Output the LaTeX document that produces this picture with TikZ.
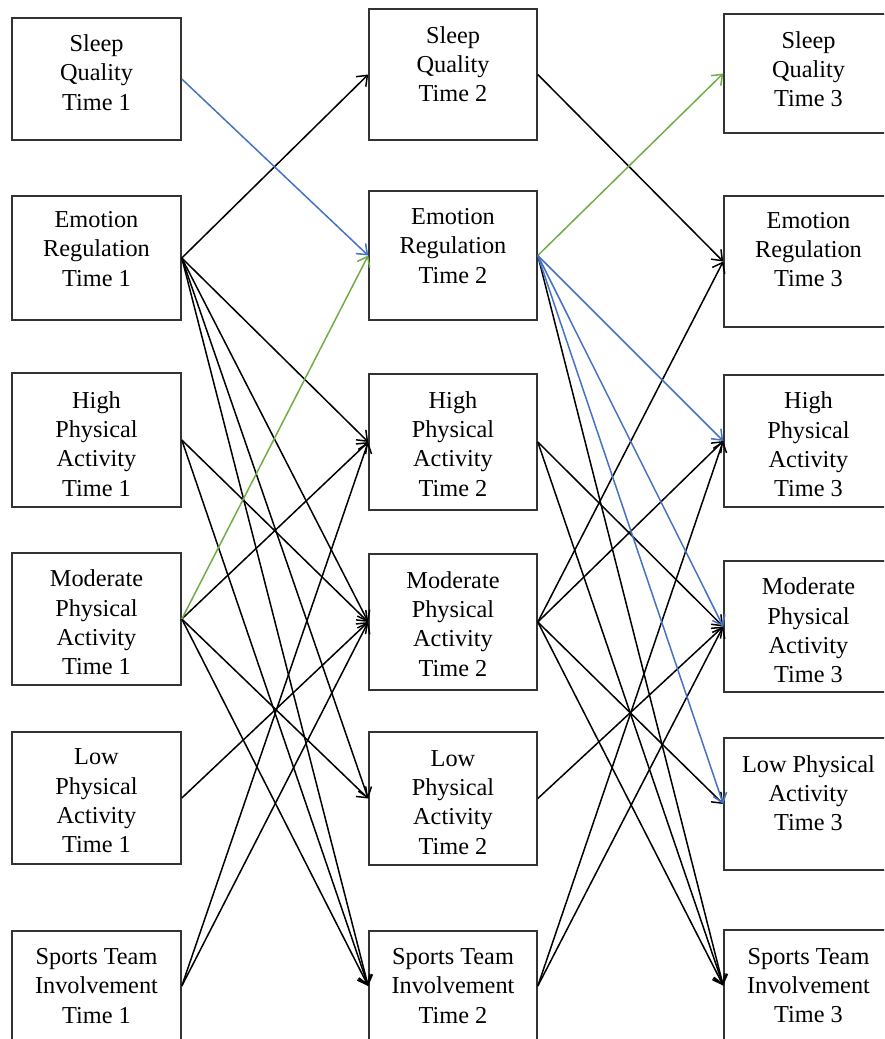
\documentclass[tikz,border=0pt]{standalone}
\usepackage{fontspec}
\setmainfont{Liberation Serif}
\usetikzlibrary{arrows.meta}

\definecolor{pathblue}{RGB}{68,114,196}
\definecolor{pathgreen}{RGB}{112,173,71}

\tikzset{
  var/.style={draw=black!80, line width=1.6pt, inner sep=0pt},
  txt/.style={font=\fontsize{24.3}{29.3}\selectfont, align=center, inner sep=0pt},
  lnk/.style={-{Straight Barb[length=9pt,width=14pt]}, line width=1.5pt},
}

\begin{document}
\begin{tikzpicture}[x=1pt,y=-1pt]
\useasboundingbox (0,0) rectangle (884,1039);
\clip (0,0) rectangle (884,1039);

% time 1
\node[var, minimum width=169pt, minimum height=122pt, label={[txt,yshift=6.5pt]center:{Sleep\\Quality\\Time 1}}] (sq1) at (96.5,79) {};
\node[var, minimum width=169pt, minimum height=124pt, label={[txt,yshift=9pt]center:{Emotion\\Regulation\\Time 1}}] (er1) at (96.5,258) {};
\node[var, minimum width=169pt, minimum height=134pt, label={[txt,yshift=-4pt]center:{High\\Physical\\Activity\\Time 1}}] (hpa1) at (96.5,440) {};
\node[var, minimum width=169pt, minimum height=132pt, label={[txt,yshift=-3.5pt]center:{Moderate\\Physical\\Activity\\Time 1}}] (mpa1) at (96.5,619) {};
\node[var, minimum width=169pt, minimum height=132pt, label={[txt,yshift=-3pt]center:{Low\\Physical\\Activity\\Time 1}}] (lpa1) at (96.5,798) {};
\node[var, minimum width=169pt, minimum height=110pt, label={[txt]center:{Sports Team\\Involvement\\Time 1}}] (sti1) at (96.5,986) {};

% time 2
\node[var, minimum width=168pt, minimum height=131pt, label={[txt,yshift=10.5pt]center:{Sleep\\Quality\\Time 2}}] (sq2) at (453,74.5) {};
\node[var, minimum width=168pt, minimum height=129pt, label={[txt,yshift=9.5pt]center:{Emotion\\Regulation\\Time 2}}] (er2) at (453,255.5) {};
\node[var, minimum width=168pt, minimum height=136pt, label={[txt,yshift=-2pt]center:{High\\Physical\\Activity\\Time 2}}] (hpa2) at (453,442) {};
\node[var, minimum width=168pt, minimum height=136pt, label={[txt,yshift=-2pt]center:{Moderate\\Physical\\Activity\\Time 2}}] (mpa2) at (453,622) {};
\node[var, minimum width=168pt, minimum height=133pt, label={[txt,yshift=-4pt]center:{Low\\Physical\\Activity\\Time 2}}] (lpa2) at (453,798.5) {};
\node[var, minimum width=168pt, minimum height=110pt, label={[txt]center:{Sports Team\\Involvement\\Time 2}}] (sti2) at (453,986) {};

% time 3
\node[var, minimum width=169pt, minimum height=119pt, label={[txt,yshift=4.5pt]center:{Sleep\\Quality\\Time 3}}] (sq3) at (808.5,73.5) {};
\node[var, minimum width=169pt, minimum height=131pt, label={[txt,yshift=12pt]center:{Emotion\\Regulation\\Time 3}}] (er3) at (808.5,261.5) {};
\node[var, minimum width=169pt, minimum height=132pt, label={[txt,yshift=-3.5pt]center:{High\\Physical\\Activity\\Time 3}}] (hpa3) at (808.5,441) {};
\node[var, minimum width=169pt, minimum height=131pt, label={[txt,yshift=-4pt]center:{Moderate\\Physical\\Activity\\Time 3}}] (mpa3) at (808.5,626.5) {};
\node[var, minimum width=169pt, minimum height=132pt, label={[txt,yshift=11pt]center:{Low Physical\\Activity\\Time 3}}] (lpa3) at (808.5,804) {};
\node[var, minimum width=169pt, minimum height=111pt, label={[txt]center:{Sports Team\\Involvement\\Time 3}}] (sti3) at (808.5,985.5) {};

% cross-lagged paths, time 1 to time 2
\foreach \a/\b in {er1/sq2, er1/hpa2, er1/mpa2, er1/lpa2, er1/sti2, hpa1/mpa2, hpa1/sti2,
                   mpa1/hpa2, mpa1/lpa2, mpa1/sti2, lpa1/mpa2, sti1/hpa2, sti1/mpa2}
  \draw[lnk] (\a.east) -- (\b.west);
\draw[lnk, pathblue] (sq1.east) -- (er2.west);
\draw[lnk, pathgreen] (mpa1.east) -- (er2.west);

% time 2 to time 3
\foreach \a/\b in {sq2/er3, er2/sti3, hpa2/mpa3, hpa2/sti3, mpa2/er3, mpa2/hpa3,
                   mpa2/lpa3, mpa2/sti3, lpa2/mpa3, sti2/hpa3, sti2/mpa3}
  \draw[lnk] (\a.east) -- (\b.west);
\draw[lnk, pathgreen] (er2.east) -- (sq3.west);
\foreach \b in {hpa3, mpa3, lpa3}
  \draw[lnk, pathblue] (er2.east) -- (\b.west);
\end{tikzpicture}
\end{document}
